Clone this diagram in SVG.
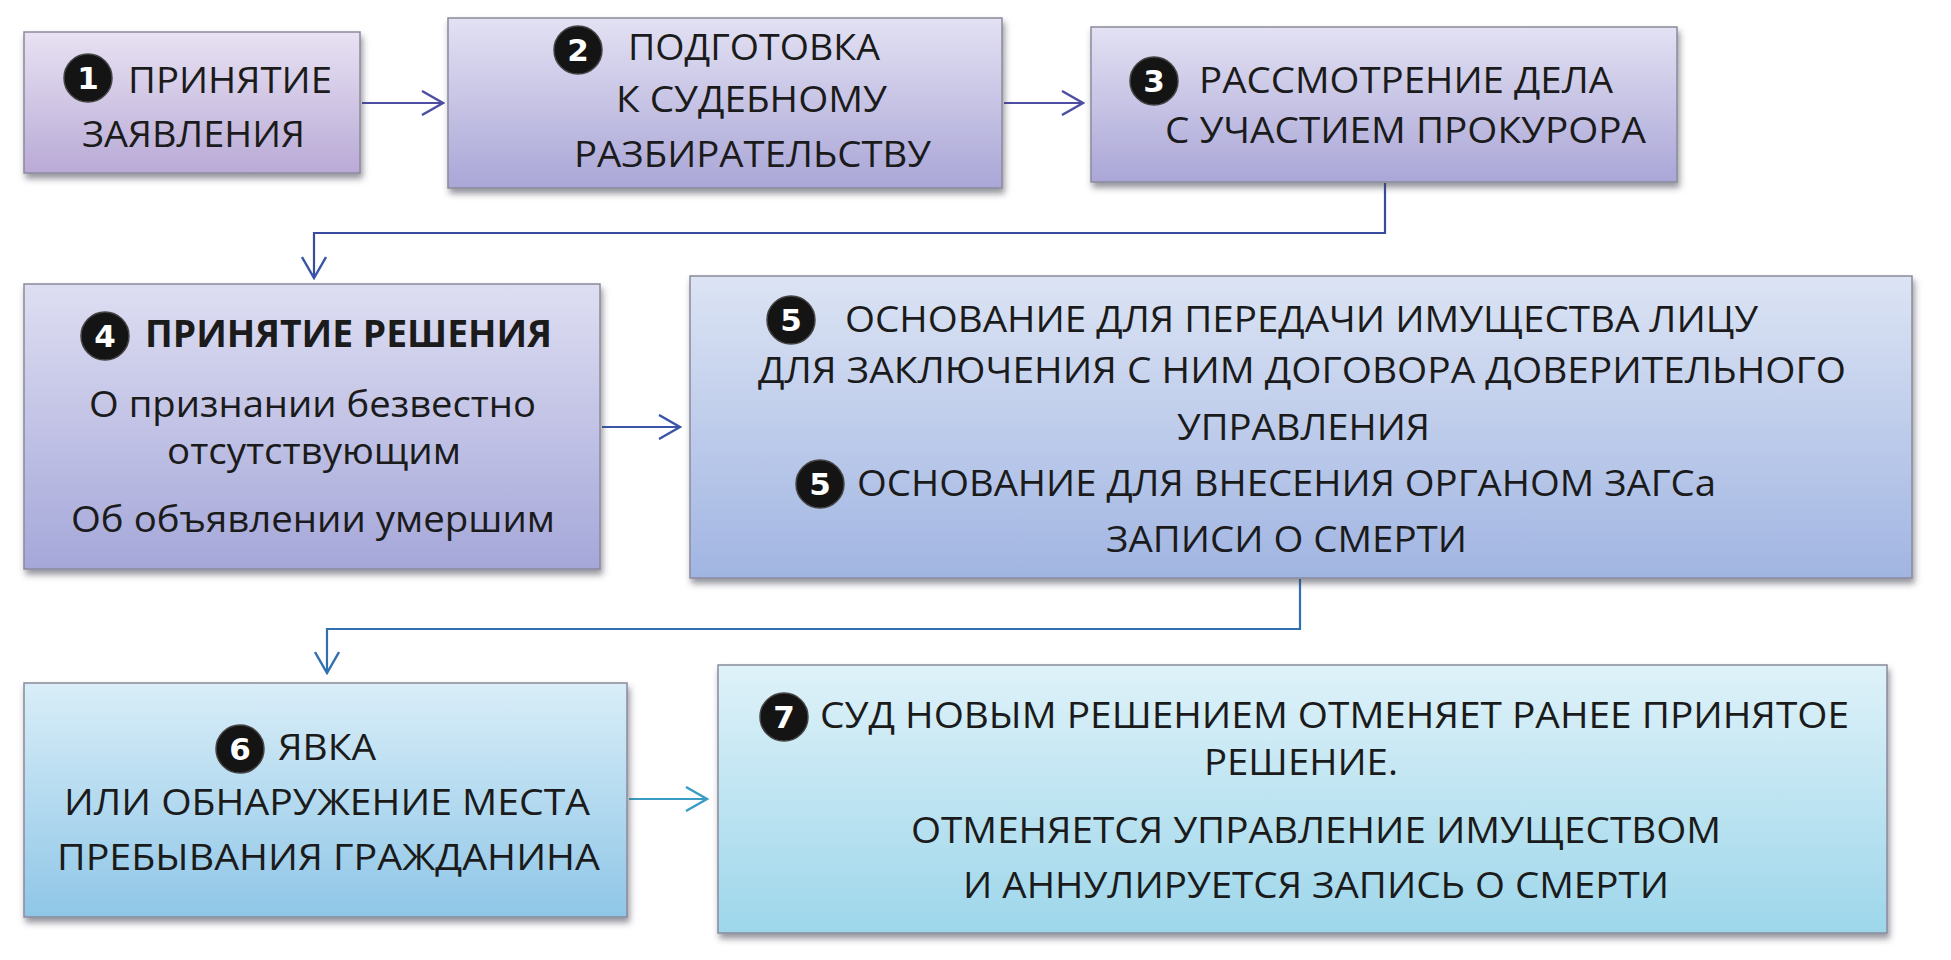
<svg xmlns="http://www.w3.org/2000/svg" width="1951" height="960" viewBox="0 0 1951 960">
<style>
.box{stroke:#8a8a9c;stroke-width:1.5;filter:url(#sh)}
.t{font-family:"Open Sans","Noto Sans","Liberation Sans",sans-serif;font-size:37px;fill:#1b1b1b}
.b{font-weight:bold}
.badge{fill:#141414;stroke:#444;stroke-width:1.5}
.num{font-family:"DejaVu Sans","Liberation Sans",sans-serif;font-size:31px;font-weight:bold;fill:#fff;text-anchor:middle}
.c{fill:none;stroke-width:2.2}
</style>
<defs>
<filter id="sh" x="-5%" y="-5%" width="112%" height="120%">
<feDropShadow dx="2" dy="5" stdDeviation="3" flood-color="#404050" flood-opacity="0.55"/>
</filter>
<linearGradient id="g1" x1="0" y1="0" x2="0" y2="1"><stop offset="0" stop-color="#e8e2f3"/><stop offset="1" stop-color="#b9aad6"/></linearGradient>
<linearGradient id="g2" x1="0" y1="0" x2="0" y2="1"><stop offset="0" stop-color="#e3e1f3"/><stop offset="1" stop-color="#aaa6d7"/></linearGradient>
<linearGradient id="g4" x1="0" y1="0" x2="0" y2="1"><stop offset="0" stop-color="#dedef2"/><stop offset="1" stop-color="#a5a7d9"/></linearGradient>
<linearGradient id="g5" x1="0" y1="0" x2="0" y2="1"><stop offset="0" stop-color="#dce4f4"/><stop offset="1" stop-color="#a1b5e2"/></linearGradient>
<linearGradient id="g6" x1="0" y1="0" x2="0" y2="1"><stop offset="0" stop-color="#d9eef8"/><stop offset="1" stop-color="#8fc6e7"/></linearGradient>
<linearGradient id="g7" x1="0" y1="0" x2="0" y2="1"><stop offset="0" stop-color="#dff2f9"/><stop offset="1" stop-color="#9dd6ea"/></linearGradient>
<marker id="aP" viewBox="0 0 24 26" refX="22" refY="13" markerWidth="24" markerHeight="26" markerUnits="userSpaceOnUse" orient="auto"><path d="M1,1 L22,13 L1,25" fill="none" stroke="#4d4da3" stroke-width="2.4"/></marker>
<marker id="aB" viewBox="0 0 24 26" refX="22" refY="13" markerWidth="24" markerHeight="26" markerUnits="userSpaceOnUse" orient="auto"><path d="M1,1 L22,13 L1,25" fill="none" stroke="#3a55a8" stroke-width="2.4"/></marker>
<marker id="aS" viewBox="0 0 24 26" refX="22" refY="13" markerWidth="24" markerHeight="26" markerUnits="userSpaceOnUse" orient="auto"><path d="M1,1 L22,13 L1,25" fill="none" stroke="#3170b0" stroke-width="2.4"/></marker>
<marker id="aT" viewBox="0 0 24 26" refX="22" refY="13" markerWidth="24" markerHeight="26" markerUnits="userSpaceOnUse" orient="auto"><path d="M1,1 L22,13 L1,25" fill="none" stroke="#3a9cc2" stroke-width="2.4"/></marker>
</defs>
<rect width="1951" height="960" fill="#ffffff"/>

<g id="connectors">
<path class="c" stroke="#4d4da3" d="M362,103 H443" marker-end="url(#aP)"/>
<path class="c" stroke="#4d4da3" d="M1004,103 H1083" marker-end="url(#aP)"/>
<path class="c" stroke="#3a4ca0" d="M1385,183 V233 H314 V278" marker-end="url(#aB)"/>
<path class="c" stroke="#3a55a8" d="M602,427 H680" marker-end="url(#aB)"/>
<path class="c" stroke="#3170b0" d="M1300,579 V629 H327 V673" marker-end="url(#aS)"/>
<path class="c" stroke="#3a9cc2" d="M629,799 H707" marker-end="url(#aT)"/>
</g>

<g id="node1">
<rect class="box" x="24" y="32" width="336" height="141" fill="url(#g1)"/>
<circle class="badge" cx="88" cy="78" r="24"/><text class="num" x="88" y="89">1</text>
<text class="t" x="128" y="93" textLength="204" lengthAdjust="spacingAndGlyphs">ПРИНЯТИЕ</text>
<text class="t" x="82" y="147" textLength="223" lengthAdjust="spacingAndGlyphs">ЗАЯВЛЕНИЯ</text>
</g>

<g id="node2">
<rect class="box" x="448" y="18" width="554" height="170" fill="url(#g2)"/>
<circle class="badge" cx="578" cy="50" r="24"/><text class="num" x="578" y="61">2</text>
<text class="t" x="628" y="60" textLength="252" lengthAdjust="spacingAndGlyphs">ПОДГОТОВКА</text>
<text class="t" x="616" y="112" textLength="271" lengthAdjust="spacingAndGlyphs">К СУДЕБНОМУ</text>
<text class="t" x="574" y="167" textLength="357" lengthAdjust="spacingAndGlyphs">РАЗБИРАТЕЛЬСТВУ</text>
</g>

<g id="node3">
<rect class="box" x="1091" y="27" width="586" height="155" fill="url(#g2)"/>
<circle class="badge" cx="1154" cy="81" r="24"/><text class="num" x="1154" y="92">3</text>
<text class="t" x="1199" y="93" textLength="414" lengthAdjust="spacingAndGlyphs">РАССМОТРЕНИЕ ДЕЛА</text>
<text class="t" x="1165" y="143" textLength="481" lengthAdjust="spacingAndGlyphs">С УЧАСТИЕМ ПРОКУРОРА</text>
</g>

<g id="node4">
<rect class="box" x="24" y="284" width="576" height="285" fill="url(#g4)"/>
<circle class="badge" cx="105" cy="336" r="24"/><text class="num" x="105" y="347">4</text>
<text class="t b" x="145" y="347" textLength="407" lengthAdjust="spacingAndGlyphs">ПРИНЯТИЕ РЕШЕНИЯ</text>
<text class="t" x="89" y="417" textLength="447" lengthAdjust="spacingAndGlyphs">О признании безвестно</text>
<text class="t" x="167" y="464" textLength="294" lengthAdjust="spacingAndGlyphs">отсутствующим</text>
<text class="t" x="71" y="532" textLength="484" lengthAdjust="spacingAndGlyphs">Об объявлении умершим</text>
</g>

<g id="node5">
<rect class="box" x="690" y="276" width="1222" height="302" fill="url(#g5)"/>
<circle class="badge" cx="791" cy="320" r="24"/><text class="num" x="791" y="331">5</text>
<text class="t" x="845" y="332" textLength="913" lengthAdjust="spacingAndGlyphs">ОСНОВАНИЕ ДЛЯ ПЕРЕДАЧИ ИМУЩЕСТВА ЛИЦУ</text>
<text class="t" x="758" y="383" textLength="1088" lengthAdjust="spacingAndGlyphs">ДЛЯ ЗАКЛЮЧЕНИЯ С НИМ ДОГОВОРА ДОВЕРИТЕЛЬНОГО</text>
<text class="t" x="1177" y="440" textLength="253" lengthAdjust="spacingAndGlyphs">УПРАВЛЕНИЯ</text>
<circle class="badge" cx="820" cy="484" r="24"/><text class="num" x="820" y="495">5</text>
<text class="t" x="857" y="496" textLength="859" lengthAdjust="spacingAndGlyphs">ОСНОВАНИЕ ДЛЯ ВНЕСЕНИЯ ОРГАНОМ ЗАГСа</text>
<text class="t" x="1106" y="552" textLength="361" lengthAdjust="spacingAndGlyphs">ЗАПИСИ О СМЕРТИ</text>
</g>

<g id="node6">
<rect class="box" x="24" y="683" width="603" height="234" fill="url(#g6)"/>
<circle class="badge" cx="240" cy="749" r="24"/><text class="num" x="240" y="760">6</text>
<text class="t" x="278" y="760" textLength="98" lengthAdjust="spacingAndGlyphs">ЯВКА</text>
<text class="t" x="64" y="815" textLength="526" lengthAdjust="spacingAndGlyphs">ИЛИ ОБНАРУЖЕНИЕ МЕСТА</text>
<text class="t" x="57" y="870" textLength="543" lengthAdjust="spacingAndGlyphs">ПРЕБЫВАНИЯ ГРАЖДАНИНА</text>
</g>

<g id="node7">
<rect class="box" x="718" y="665" width="1169" height="268" fill="url(#g7)"/>
<circle class="badge" cx="784" cy="717" r="24"/><text class="num" x="784" y="728">7</text>
<text class="t" x="820" y="728" textLength="1029" lengthAdjust="spacingAndGlyphs">СУД НОВЫМ РЕШЕНИЕМ ОТМЕНЯЕТ РАНЕЕ ПРИНЯТОЕ</text>
<text class="t" x="1204" y="775" textLength="194" lengthAdjust="spacingAndGlyphs">РЕШЕНИЕ.</text>
<text class="t" x="911" y="843" textLength="810" lengthAdjust="spacingAndGlyphs">ОТМЕНЯЕТСЯ УПРАВЛЕНИЕ ИМУЩЕСТВОМ</text>
<text class="t" x="963" y="898" textLength="706" lengthAdjust="spacingAndGlyphs">И АННУЛИРУЕТСЯ ЗАПИСЬ О СМЕРТИ</text>
</g>
</svg>
